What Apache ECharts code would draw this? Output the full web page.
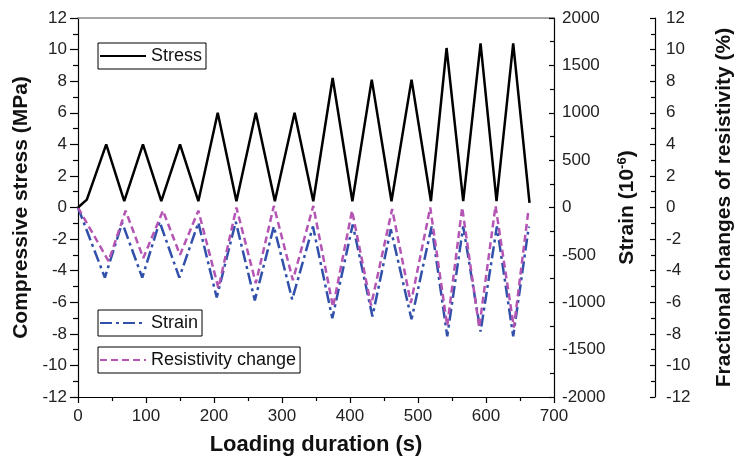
<!DOCTYPE html>
<html>
<head>
<meta charset="utf-8">
<script src="https://cdn.jsdelivr.net/npm/echarts@6/dist/echarts.min.js"></script>
<style>
  html, body { margin: 0; padding: 0; background: #fff; }
  #chart { width: 736px; height: 459px; }
</style>
</head>
<body>
<div id="chart"></div>
<script>
var chart = echarts.init(document.getElementById('chart'));

// loading time (s) and values
var stressTime = [0, 13, 41.5, 68, 95.5, 122.5, 150, 177, 205.5, 233, 261.5, 289.5, 318.5, 346, 374.5, 403.5, 432, 461, 490.5, 519, 542, 566.5, 592, 615.5, 640, 664];
var stressValues = [0, 0.5, 4, 0.4, 4, 0.4, 4, 0.4, 6, 0.4, 6, 0.4, 6, 0.4, 8.2, 0.4, 8.1, 0.4, 8.1, 0.4, 10.1, 0.4, 10.4, 0.4, 10.4, 0.3];

var strainTime = [0, 39.5, 65, 94.5, 120, 149, 177, 204, 232, 260, 288, 315, 345.5, 374, 404, 433, 460, 490.5, 520, 543, 566.5, 592, 616, 640, 663];
var strainValues = [0, -740, -160, -740, -150, -740, -160, -950, -150, -980, -200, -970, -200, -1170, -180, -1150, -230, -1180, -200, -1360, -200, -1310, -200, -1360, -200];

var resistTime = [0, 45, 70, 96, 125, 150, 177, 206.5, 233, 261.5, 288, 316, 346, 375, 403, 431, 462, 489.5, 518, 543, 565, 590, 614, 641, 662];
var resistValues = [0, -3.4, -0.2, -3.2, -0.2, -3.0, -0.2, -5.1, 0, -4.8, 0.1, -4.6, 0.1, -6.3, -0.2, -6.2, -0.1, -6.05, 0, -7.5, 0, -7.6, 0.1, -7.6, -0.3];

var stressTicks = [-12, 12, 2];
var strainTicks = [-2000, 2000, 500];
var timeTicks = [0, 700, 100];

function pairs(xs, ys) {
    var out = [];
    for (var i = 0; i < xs.length; i++) {
        out.push([xs[i], ys[i]]);
    }
    return out;
}

var font = 'Liberation Sans, Arial, sans-serif';
var labelStyle = { fontFamily: font, fontSize: 17, color: '#222' };
var titleStyle = { fontFamily: font, fontSize: 21, fontWeight: 'bold', color: '#111' };
var plain = function (v) { return String(v); };

function legendBox(name, top, left) {
    return {
        data: [name],
        left: left,
        top: top,
        orient: 'horizontal',
        borderColor: '#000',
        borderWidth: 1,
        padding: [4, 4, 4, 1],
        itemWidth: 46,
        itemHeight: 14,
        itemGap: 0,
        selectedMode: false,
        itemStyle: { opacity: 0 },
        textStyle: { fontFamily: font, fontSize: 18, color: '#111' }
    };
}

var option = {
    animation: false,
    backgroundColor: '#fff',
    grid: { left: 78, right: 182, top: 18, bottom: 62, outerBoundsMode: 'none' },
    legend: [
        legendBox('Stress', 43, 98),
        legendBox('Strain', 310, 98),
        legendBox('Resistivity change', 347, 98)
    ],
    xAxis: [
        {
            type: 'value',
            position: 'bottom',
            min: timeTicks[0],
            max: timeTicks[1],
            interval: timeTicks[2],
            axisLine: { onZero: false, lineStyle: { color: '#000', width: 1.2 } },
            axisTick: { length: 6, lineStyle: { color: '#000', width: 1.2 } },
            minorTick: { show: true, splitNumber: 2, length: 4, lineStyle: { color: '#000', width: 1.2 } },
            splitLine: { show: false },
            axisLabel: Object.assign({ margin: 11 }, labelStyle),
            name: 'Loading duration (s)',
            nameLocation: 'middle',
            nameGap: 37,
            nameTextStyle: Object.assign({}, titleStyle, { fontSize: 22 })
        },
        {
            type: 'value',
            position: 'top',
            min: timeTicks[0],
            max: timeTicks[1],
            interval: timeTicks[2],
            axisLine: { show: true, onZero: false, lineStyle: { color: '#888', width: 1.5 } },
            axisTick: { show: false },
            axisLabel: { show: false },
            splitLine: { show: false }
        }
    ],
    yAxis: [
        {
            type: 'value',
            position: 'left',
            min: stressTicks[0],
            max: stressTicks[1],
            interval: stressTicks[2],
            axisLine: { show: true, onZero: false, lineStyle: { color: '#000', width: 1.2 } },
            axisTick: { show: true, length: 8, lineStyle: { color: '#000', width: 1.2 } },
            minorTick: { show: true, splitNumber: 2, length: 5, lineStyle: { color: '#000', width: 1.2 } },
            splitLine: { show: false },
            axisLabel: Object.assign({ margin: 11 }, labelStyle),
            name: 'Compressive stress (MPa)',
            nameLocation: 'middle',
            nameRotate: 90,
            nameGap: 46,
            nameTextStyle: titleStyle
        },
        {
            type: 'value',
            position: 'right',
            min: strainTicks[0],
            max: strainTicks[1],
            interval: strainTicks[2],
            axisLine: { show: true, onZero: false, lineStyle: { color: '#000', width: 1.2 } },
            axisTick: { show: true, inside: true, length: 5, lineStyle: { color: '#000', width: 1.2 } },
            minorTick: { show: true, splitNumber: 2, length: 4, lineStyle: { color: '#000', width: 1.2 } },
            splitLine: { show: false },
            axisLabel: Object.assign({ margin: 8, formatter: plain }, labelStyle),
            name: '{a|Strain (10}{b|-6}{a|)}',
            nameLocation: 'middle',
            nameRotate: 90,
            nameGap: 56,
            nameTextStyle: {
                rich: {
                    a: titleStyle,
                    b: { fontFamily: font, fontSize: 13, fontWeight: 'bold', color: '#111', verticalAlign: 'top' }
                }
            }
        },
        {
            type: 'value',
            position: 'right',
            offset: 101,
            min: stressTicks[0],
            max: stressTicks[1],
            interval: stressTicks[2],
            axisLine: { show: true, onZero: false, lineStyle: { color: '#000', width: 1.2 } },
            axisTick: { show: true, inside: true, length: 5, lineStyle: { color: '#000', width: 1.2 } },
            minorTick: { show: true, splitNumber: 2, length: 4, lineStyle: { color: '#000', width: 1.2 } },
            splitLine: { show: false },
            axisLabel: Object.assign({ margin: 11 }, labelStyle),
            name: 'Fractional changes of resistivity (%)',
            nameLocation: 'middle',
            nameRotate: 90,
            nameGap: 59,
            nameTextStyle: titleStyle
        }
    ],
    series: [
        {
            name: 'Strain',
            type: 'line',
            yAxisIndex: 1,
            symbol: 'none',
            lineStyle: { color: '#3050aa', width: 2.5, type: [12, 4, 3, 4] },
            itemStyle: { color: '#3050aa' },
            data: pairs(strainTime, strainValues)
        },
        {
            name: 'Resistivity change',
            type: 'line',
            yAxisIndex: 2,
            symbol: 'none',
            lineStyle: { color: '#b455b4', width: 2.5, type: [7, 4] },
            itemStyle: { color: '#b455b4' },
            data: pairs(resistTime, resistValues)
        },
        {
            name: 'Stress',
            type: 'line',
            yAxisIndex: 0,
            symbol: 'none',
            lineStyle: { color: '#000', width: 2.5 },
            itemStyle: { color: '#000' },
            data: pairs(stressTime, stressValues)
        }
    ]
};

chart.setOption(option);
</script>
</body>
</html>
